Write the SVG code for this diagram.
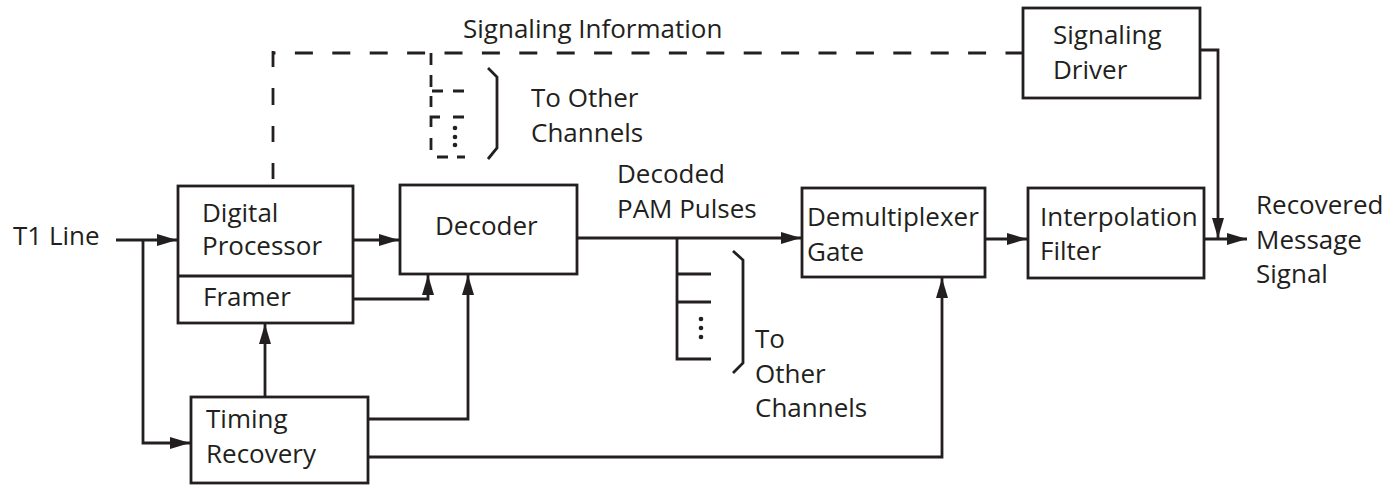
<svg xmlns="http://www.w3.org/2000/svg" width="1388" height="485" viewBox="0 0 1388 485">
<style>
.box{fill:#fff;stroke:#231f20;stroke-width:2.8}
.ln{fill:none;stroke:#231f20;stroke-width:2.8}
.dl{fill:none;stroke:#231f20;stroke-width:2.8}
.t{font-family:"Open Sans","Noto Sans",sans-serif;font-size:26px;fill:#231f20}
.dot{fill:#231f20}
</style>
<defs>
<marker id="ah" markerWidth="20" markerHeight="12" refX="20" refY="6" orient="auto" markerUnits="userSpaceOnUse">
<path d="M0,0 L20,6 L0,12 Z" fill="#231f20"/>
</marker>
</defs>
<rect width="1388" height="485" fill="#fff"/>
<g id="connectors">
<path class="ln" d="M116,240 H177" marker-end="url(#ah)"/>
<path class="ln" d="M143,240 V443 H190" marker-end="url(#ah)"/>
<path class="ln" d="M353,240 H399" marker-end="url(#ah)"/>
<path class="ln" d="M353,299 H428 V275" marker-end="url(#ah)"/>
<path class="ln" d="M265,397 V324" marker-end="url(#ah)"/>
<path class="ln" d="M368,419 H468 V275" marker-end="url(#ah)"/>
<path class="ln" d="M368,457 H942 V278" marker-end="url(#ah)"/>
<path class="ln" d="M577,238 H801" marker-end="url(#ah)"/>
<path class="ln" d="M677,238 V359 H711 M677,274 H711 M677,302 H711"/>
<circle class="dot" cx="701" cy="319" r="2.3"/>
<circle class="dot" cx="701" cy="328" r="2.3"/>
<circle class="dot" cx="701" cy="337" r="2.3"/>
<path class="ln" d="M733,251 L743,260 V363 L733,373"/>
<path class="ln" d="M985,239 H1027" marker-end="url(#ah)"/>
<path class="ln" d="M1204,239 H1247" marker-end="url(#ah)"/>
<path class="ln" d="M1200,50 H1218 V238" marker-end="url(#ah)"/>
<path class="dl" d="M273,53 H1023" stroke-dasharray="18 19.4" stroke-dashoffset="15.5"/>
<path class="ln" d="M273,51 V67 M273,88 V105 M273,126 V142 M273,163 V179"/>
<path class="ln" d="M431,53 V65 M431,75 V87 M431,96 V107 M432,91 H443 M453,91 H464 M440,117 H431 V127 M453,117 H464 M431,138 V150 M437,157 H448 M457,157 H465"/>
<circle class="dot" cx="455" cy="128" r="2.3"/>
<circle class="dot" cx="455" cy="137" r="2.3"/>
<circle class="dot" cx="455" cy="145" r="2.3"/>
<path class="ln" d="M488,68 L497,77 V148 L488,159"/>
</g>
<g id="digital-processor">
<rect class="box" x="178" y="186" width="175" height="137"/>
<path class="ln" d="M178,276 H353"/>
<text class="t" x="202" y="222">Digital</text>
<text class="t" x="202" y="255">Processor</text>
<text class="t" x="203" y="306">Framer</text>
</g>
<g id="decoder">
<rect class="box" x="400" y="185" width="177" height="89"/>
<text class="t" x="435" y="235">Decoder</text>
</g>
<g id="timing-recovery">
<rect class="box" x="191" y="397" width="177" height="86"/>
<text class="t" x="206" y="428">Timing</text>
<text class="t" x="206" y="463">Recovery</text>
</g>
<g id="demux">
<rect class="box" x="802" y="188" width="183" height="89"/>
<text class="t" x="807" y="226">Demultiplexer</text>
<text class="t" x="807" y="261">Gate</text>
</g>
<g id="interp-filter">
<rect class="box" x="1028" y="188" width="176" height="90"/>
<text class="t" x="1040" y="226">Interpolation</text>
<text class="t" x="1040" y="260">Filter</text>
</g>
<g id="signaling-driver">
<rect class="box" x="1023" y="8" width="177" height="90"/>
<text class="t" x="1053" y="44">Signaling</text>
<text class="t" x="1053" y="79">Driver</text>
</g>
<g id="labels">
<text class="t" x="13" y="245">T1 Line</text>
<text class="t" x="463" y="38">Signaling Information</text>
<text class="t" x="531" y="107">To Other</text>
<text class="t" x="531" y="142">Channels</text>
<text class="t" x="617" y="183">Decoded</text>
<text class="t" x="617" y="218">PAM Pulses</text>
<text class="t" x="755" y="348">To</text>
<text class="t" x="755" y="383">Other</text>
<text class="t" x="755" y="417">Channels</text>
<text class="t" x="1256" y="214">Recovered</text>
<text class="t" x="1256" y="249">Message</text>
<text class="t" x="1256" y="283">Signal</text>
</g>
</svg>
